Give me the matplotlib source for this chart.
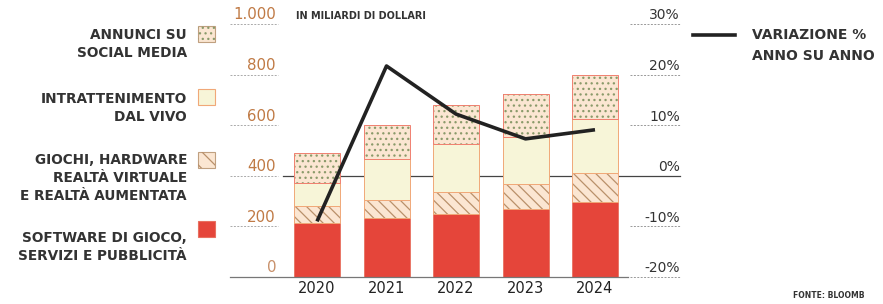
import numpy as np
import matplotlib.pyplot as plt
from matplotlib.patches import Rectangle
from matplotlib.lines import Line2D

# dati (miliardi di dollari)
anni = ['2020', '2021', '2022', '2023', '2024']
software = [212, 232, 250, 268, 296]
hardware = [68, 72, 86, 100, 114]
intratt = [92, 162, 190, 185, 213]
social = [120, 135, 154, 170, 175]
variazione = [-9.0, 21.7, 12.2, 7.3, 9.1]

tick_sx = [0, 200, 400, 600, 800, 1000]
tick_sx_lab = ['0', '200', '400', '600', '800', '1.000']
tick_dx = [-20, -10, 0, 10, 20, 30]

leg_lab = ['ANNUNCI SU\nSOCIAL MEDIA', 'INTRATTENIMENTO\nDAL VIVO',
           'GIOCHI, HARDWARE\nREALTÀ VIRTUALE\nE REALTÀ AUMENTATA',
           'SOFTWARE DI GIOCO,\nSERVIZI E PUBBLICITÀ']

rosso = '#e5453a'
crema = '#f7f5d8'
pesca = '#fbe6d2'
bordo = '#f0a878'
testo = '#333333'
arancio = '#c07a45'

plt.rcParams['font.family'] = ['DejaVu Sans']
plt.rcParams['hatch.linewidth'] = 0.9

W, H = 883, 304
fig = plt.figure(figsize=(W/100, H/100), dpi=100)

# asse principale: x pixel 230..640, y pixel 24..277
x0, x1, ytop, ybot = 230, 640, 24, 277
ax = fig.add_axes([x0/W, (H-ybot)/H, (x1-x0)/W, (ybot-ytop)/H])
passo = 69.5
ax.set_xlim((x0-317)/passo, (x1-317)/passo)
ax.set_ylim(0, 1000)
ax.axis('off')
ax2 = ax.twinx()
ax2.set_ylim(-20, 30)
ax2.axis('off')

x = np.arange(len(anni))
w = 46/passo
b = np.zeros(len(anni))

ax.bar(x, software, w, bottom=b, color=rosso, edgecolor='#e87060', lw=0.6, zorder=2)
b += software
ax.bar(x, hardware, w, bottom=b, color=pesca, lw=0, zorder=2)
ax.bar(x, hardware, w, bottom=b, color='none', edgecolor='#b9906a', hatch='\\\\\\', lw=0, zorder=2)
ax.bar(x, hardware, w, bottom=b, color='none', edgecolor=bordo, lw=0.7, zorder=2)
b += hardware
ax.bar(x, intratt, w, bottom=b, color=crema, edgecolor=bordo, lw=0.7, zorder=2)
b += intratt
ax.bar(x, social, w, bottom=b, color=pesca, lw=0, zorder=2)
ax.bar(x, social, w, bottom=b, color='none', edgecolor='#8a9a6a', hatch='...', lw=0, zorder=2)
ax.bar(x, social, w, bottom=b, color='none', edgecolor='#f08070', lw=0.7, zorder=2)

# linee di riferimento
tr = ax.get_yaxis_transform()
ax.plot([(283-x0)/(x1-x0), (680-x0)/(x1-x0)], [400, 400], transform=tr,
        color='#444444', lw=0.9, zorder=1, clip_on=False)
ax.plot([0, (628-x0)/(x1-x0)], [0, 0], transform=tr,
        color='#777777', lw=0.9, zorder=3, clip_on=False)

# tick sinistra
for v, lab in zip(tick_sx, tick_sx_lab):
    ax.text((276-x0)/(x1-x0), v + 6, lab, transform=tr, ha='right', va='bottom',
            fontsize=10.8, color=arancio if v else '#c8906a')
    if v:
        ax.plot([0, (278-x0)/(x1-x0)], [v, v], transform=tr, color='#aaaaaa',
                lw=0.7, ls=(0, (2, 1.5)), clip_on=False)

# tick destra
tr2 = ax2.get_yaxis_transform()
for v in tick_dx:
    ax2.text((680-x0)/(x1-x0), v + 0.3, '%d%%' % v, transform=tr2, ha='right',
             va='bottom', fontsize=10, color=testo)
    if v != 0:
        ax2.plot([(630-x0)/(x1-x0), (680-x0)/(x1-x0)], [v, v], transform=tr2,
                 color='#999999', lw=0.7, ls=(0, (2, 1.5)), clip_on=False)

ax2.plot(x, variazione, color='#222222', lw=2.6, solid_capstyle='butt', zorder=5)

# anni
for xi, a in zip(x, anni):
    ax.text(xi, -16, a, ha='center', va='top', fontsize=10.5, color='#222222')

fig.text(296/W, 1 - 16/H, 'IN MILIARDI DI DOLLARI', ha='left',
         va='center', fontsize=7, fontweight='bold', color=testo)

# legenda sinistra
ly_txt = [44, 108, 178, 247]
ly_patch = [34, 97, 160, 229]
stili = [(pesca, '#8a9a6a', '...'), (crema, bordo, None),
         (pesca, '#b9906a', '\\\\'), (rosso, '#e87060', None)]
for lab, yt, yp, (fc, ec, h) in zip(leg_lab, ly_txt, ly_patch, stili):
    fig.text(187/W, 1 - yt/H, lab, ha='right', va='center', fontsize=9.8,
             fontweight='bold', color=testo, linespacing=1.38)
    r = Rectangle((198/W, 1 - (yp+8)/H), 17/W, 16/H, transform=fig.transFigure,
                  facecolor=fc, edgecolor='#c0a080' if h else ec, lw=0.8)
    fig.add_artist(r)
    if h:
        r2 = Rectangle((198/W, 1 - (yp+8)/H), 17/W, 16/H, transform=fig.transFigure,
                       facecolor='none', edgecolor=ec, hatch=h, lw=0)
        fig.add_artist(r2)

# legenda destra
fig.add_artist(Line2D([693/W, 735/W], [1-35/H, 1-35/H], color='#222222', lw=2.6))
fig.text(752/W, 1-45.5/H, 'VARIAZIONE %\nANNO SU ANNO', ha='left', va='center',
         fontsize=10, fontweight='bold', color=testo, linespacing=1.55)

fig.text(793/W, 1-296/H, 'FONTE: BLOOMB', ha='left', va='center', fontsize=5.5,
         fontweight='bold', color=testo)

fig.savefig('out.png', dpi=100, facecolor='white')
